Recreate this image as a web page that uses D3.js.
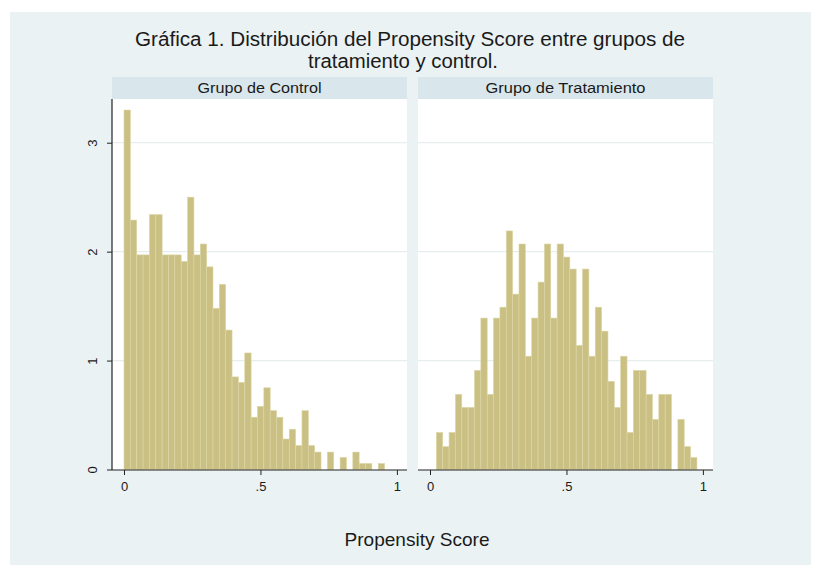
<!DOCTYPE html>
<html>
<head>
<meta charset="utf-8">
<script src="https://cdn.jsdelivr.net/npm/d3@7"></script>
<style>
  body { margin: 0; background: #ffffff; }
  text { font-family: "Liberation Sans", Arial, sans-serif; fill: #1a1a1a; }
</style>
</head>
<body>
<svg id="chart" width="821" height="571"></svg>
<script>
// histogram bins shared by both panels
let binStart = 0;
let binWidth = 0.02329;
let panelNames = ["Grupo de Control", "Grupo de Tratamiento"];
let controlDensity = [3.30, 2.29, 1.97, 1.97, 2.34, 2.34, 1.97, 1.97, 1.97, 1.91,
                      2.50, 1.97, 2.07, 1.86, 1.48, 1.70, 1.28, 0.85, 0.80, 1.07,
                      0.48, 0.58, 0.75, 0.54, 0.48, 0.28, 0.37, 0.22, 0.54, 0.22,
                      0.16, 0, 0.16, 0, 0.11, 0, 0.16, 0.055, 0.055, 0,
                      0.055, 0];
let treatDensity = [0, 0.34, 0.21, 0.34, 0.69, 0.57, 0.57, 0.91, 1.39, 0.69,
                    1.39, 1.49, 2.19, 1.61, 2.07, 1.04, 1.39, 1.72, 2.07, 1.39,
                    2.07, 1.95, 1.84, 1.14, 1.84, 1.04, 1.49, 1.27, 0.81, 0.57,
                    1.04, 0.34, 0.91, 0.91, 0.69, 0.46, 0.69, 0.69, 0, 0.46,
                    0.21, 0.11];
let yTicks = [0, 1, 2, 3];
let xTicks = [0, 0.5, 1];
let xTickLabels = ["0", ".5", "1"];

let svg = d3.select("#chart");
let bg = "#eaf2f3";
let barFill = "#cac084";

// outer graph region
svg.append("rect")
  .attr("x", 10).attr("y", 12)
  .attr("width", 801).attr("height", 553)
  .style("fill", bg);

// titles (narrow Stata look -> squeeze the font a bit)
svg.append("text")
  .attr("x", 410).attr("y", 46)
  .attr("text-anchor", "middle")
  .attr("textLength", 550).attr("lengthAdjust", "spacingAndGlyphs")
  .style("font-size", "20px")
  .text("Gráfica 1. Distribución del Propensity Score entre grupos de");
svg.append("text")
  .attr("x", 403).attr("y", 68)
  .attr("text-anchor", "middle")
  .attr("textLength", 190).attr("lengthAdjust", "spacingAndGlyphs")
  .style("font-size", "20px")
  .text("tratamiento y control.");

let panelTop = 99;
let panelBottom = 470;
let panelW = 295;
let panelX = [112, 418];

let yScale = d3.scaleLinear()
  .domain([0, 3]).range([469.5, 142.7]);

let panels = [
  {name: panelNames[0], values: controlDensity, x0: panelX[0], yaxis: true, labelW: 124},
  {name: panelNames[1], values: treatDensity, x0: panelX[1], yaxis: false, labelW: 160}
];

panels.forEach(function(p) {
  let g = svg.append("g");
  let xScale = d3.scaleLinear()
    .domain([-0.044, 1.037])
    .range([p.x0, p.x0 + panelW]);

  // strip
  g.append("rect")
    .attr("x", p.x0).attr("y", 77)
    .attr("width", panelW).attr("height", panelTop - 77)
    .style("fill", "#d9e6eb");
  g.append("text")
    .attr("x", p.x0 + panelW / 2).attr("y", 93)
    .attr("text-anchor", "middle")
    .attr("textLength", p.labelW).attr("lengthAdjust", "spacingAndGlyphs")
    .style("font-size", "15px")
    .text(p.name);

  // plot region
  g.append("rect")
    .attr("x", p.x0).attr("y", panelTop)
    .attr("width", panelW).attr("height", panelBottom - panelTop)
    .style("fill", "#ffffff");

  // gridlines
  g.selectAll(".grid")
    .data(yTicks.slice(1))
    .enter()
    .append("line")
      .attr("x1", p.x0).attr("x2", p.x0 + panelW)
      .attr("y1", d => yScale(d)).attr("y2", d => yScale(d))
      .style("stroke", "#e6eef0")
      .style("stroke-width", 1.2);

  // bars
  g.selectAll(".bar")
    .data(p.values)
    .enter()
    .append("rect")
      .attr("x", (d, i) => xScale(binStart + i * binWidth))
      .attr("width", xScale(binWidth) - xScale(0))
      .attr("y", d => yScale(d))
      .attr("height", d => yScale(0) - yScale(d))
      .style("fill", barFill)
      .style("stroke", "#ddd6a6")
      .style("stroke-width", 0.6)
      .style("display", d => d > 0 ? null : "none");

  // x axis
  let xAxis = d3.axisBottom(xScale)
    .tickValues(xTicks)
    .tickFormat((d, i) => xTickLabels[i])
    .tickSize(5)
    .tickPadding(7);
  let xg = g.append("g")
    .attr("transform", "translate(0," + panelBottom + ")")
    .call(xAxis);
  xg.select(".domain").remove();
  xg.append("line")
    .attr("x1", p.x0).attr("x2", p.x0 + panelW)
    .style("stroke", "#222").style("stroke-width", 1.2);
  xg.selectAll(".tick line").style("stroke", "#222");
  xg.selectAll(".tick text")
    .style("font-size", "13px")
    .style("font-family", "Liberation Sans, Arial, sans-serif")
    .style("fill", "#1a1a1a");

  if (p.yaxis) {
    let yAxis = d3.axisLeft(yScale)
      .tickValues(yTicks)
      .tickFormat(d3.format("d"))
      .tickSize(5)
      .tickPadding(6);
    let yg = g.append("g")
      .attr("transform", "translate(" + p.x0 + ",0)")
      .call(yAxis);
    yg.select(".domain").remove();
    yg.append("line")
      .attr("y1", panelTop).attr("y2", panelBottom)
      .style("stroke", "#222").style("stroke-width", 1.2);
    yg.selectAll(".tick line").style("stroke", "#222");
    yg.selectAll(".tick text")
      .attr("x", null).attr("dy", null)
      .attr("text-anchor", "middle")
      .attr("transform", "translate(-15,0) rotate(-90)")
      .style("font-size", "13px")
      .style("font-family", "Liberation Sans, Arial, sans-serif")
      .style("fill", "#1a1a1a");
  }
});

// x axis title
svg.append("text")
  .attr("x", 417).attr("y", 546)
  .attr("text-anchor", "middle")
  .attr("textLength", 145).attr("lengthAdjust", "spacingAndGlyphs")
  .style("font-size", "19px")
  .text("Propensity Score");
</script>
</body>
</html>
